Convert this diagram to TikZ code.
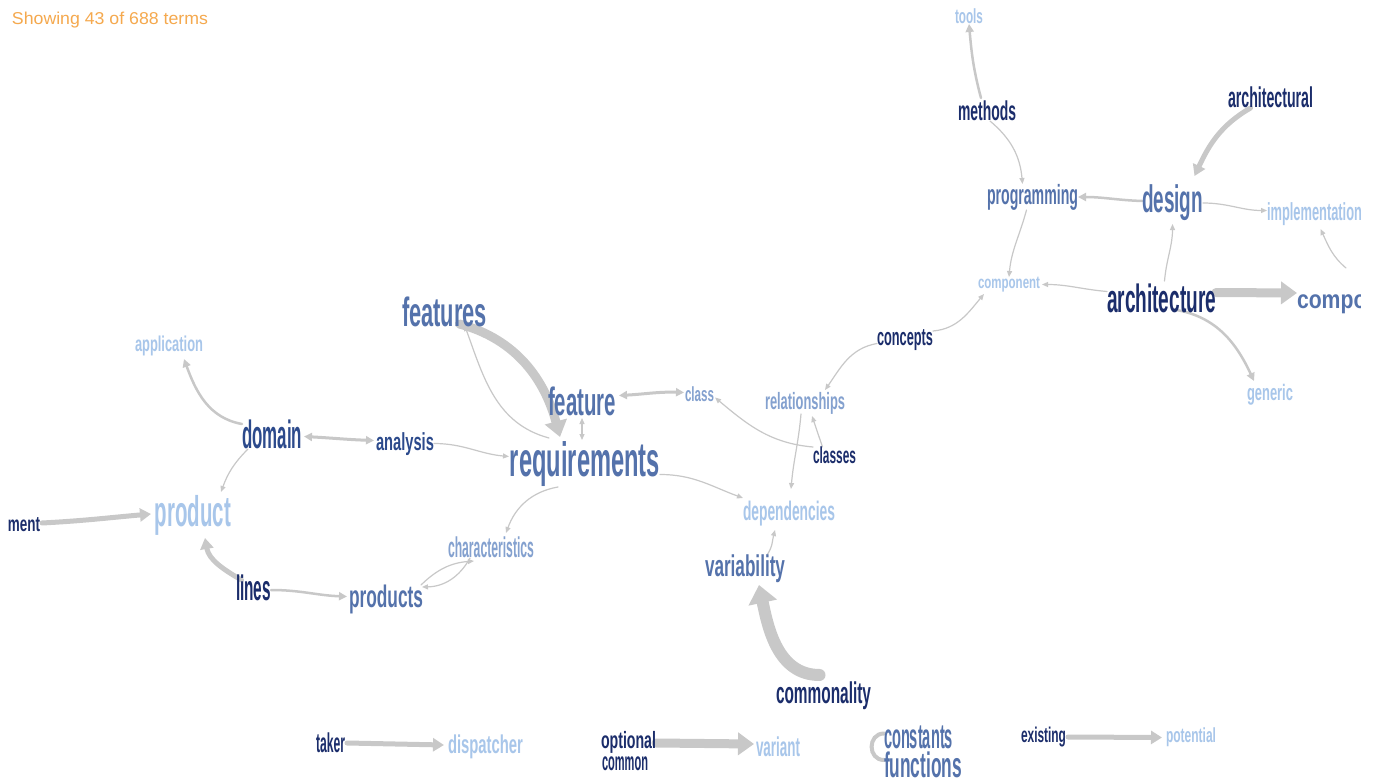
\documentclass[tikz,border=0pt]{standalone}
\usepackage{graphicx}
\usepackage{fontspec}
\setmainfont{Liberation Sans}
\usetikzlibrary{arrows.meta}
\pgfdeclarelayer{edges}
\pgfsetlayers{edges,main}
\definecolor{cdark}{HTML}{1B2D6B}
\definecolor{cdm}{HTML}{2C4A8C}
\definecolor{cmid}{HTML}{5472AB}
\definecolor{cml}{HTML}{84A1CF}
\definecolor{clight}{HTML}{A8C6EA}
\definecolor{cedge}{HTML}{C8C8C8}
\definecolor{corange}{HTML}{F5A94E}
\newcommand\fw[3]{\resizebox*{#1pt}{#2pt}{\bfseries #3}}
\tikzset{
  term/.style={inner sep=0pt, outer sep=0pt},
  ed/.style={draw=cedge, line cap=round},
  ea/.style={ed, line width=1.2pt, -{Triangle[length=6pt,width=5pt]}},
  eb/.style={ed, line width=2.5pt, -{Triangle[length=8pt,width=8pt]}},
  ec/.style={ed, line width=5pt, -{Triangle[length=11pt,width=13pt]}},
  edd/.style={ed, line width=9pt, -{Triangle[length=16pt,width=22pt]}},
  ee/.style={ed, line width=12pt, -{Triangle[length=18pt,width=28pt]}},
  eab/.style={ed, line width=1.2pt, {Triangle[length=6pt,width=5pt]}-{Triangle[length=6pt,width=5pt]}},
  ebb/.style={ed, line width=3pt, {Triangle[length=8pt,width=8pt]}-{Triangle[length=8pt,width=8pt]}},
}
\begin{document}
\begin{tikzpicture}[x=1pt,y=-1pt]
\useasboundingbox (0,0) rectangle (1376,778);
\begin{pgfonlayer}{edges}
\fill[white] (0,0) rectangle (1376,778);
\end{pgfonlayer}
\begin{scope}
\clip (8,0) rectangle (1360,778);
% header
\node[term,text=corange] (hdr) at (110,20) {\resizebox*{196pt}{16pt}{Showing 43 of 688 terms}};
% terms
\node[term,text=clight] (tools) at (969,16.5) {\fw{28}{15}{tools}};
\node[term,text=cdark] (methods) at (987,111) {\fw{58}{20}{methods}};
\node[term,text=cdark] (architectural) at (1270.5,97.5) {\fw{85}{21}{architectural}};
\node[term,text=cmid] (programming) at (1032.5,197) {\fw{91}{26}{programming}};
\node[term,text=cmid] (design) at (1172.5,203) {\fw{61}{36}{design}};
\node[term,text=clight] (implementation) at (1314.5,214.5) {\fw{95}{23}{implementation}};
\node[term,text=clight] (component) at (1009,284.5) {\fw{62}{15}{component}};
\node[term,text=cdark] (architecture) at (1161.5,298.5) {\fw{109}{29}{architecture}};
\node[term,text=cmid] (components) at (1360,303) {\fw{126}{22}{components}};
\node[term,text=clight] (generic) at (1270,394.5) {\fw{46}{21}{generic}};
\node[term,text=cdark] (concepts) at (905,340.5) {\fw{56}{21}{concepts}};
\node[term,text=cmid] (features) at (444.5,312) {\fw{85}{30}{features}};
\node[term,text=clight] (application) at (169,346) {\fw{68}{20}{application}};
\node[term,text=cdm] (domain) at (272,434.5) {\fw{60}{29}{domain}};
\node[term,text=cdm] (analysis) at (405,444.5) {\fw{58}{23}{analysis}};
\node[term,text=cmid] (feature) at (582,401.5) {\fw{68}{29}{feature}};
\node[term,text=cml] (class) at (699.5,394.5) {\fw{29}{15}{class}};
\node[term,text=cml] (relationships) at (805,403) {\fw{80}{22}{relationships}};
\node[term,text=cdark] (classes) at (834.5,455.5) {\fw{43}{17}{classes}};
\node[term,text=cmid] (requirements) at (585,464.5) {\fw{150}{45}{requirements}};
\node[term,text=clight] (dependencies) at (789,513.5) {\fw{92}{25}{dependencies}};
\node[term,text=cml] (characteristics) at (491,547.5) {\fw{86}{21}{characteristics}};
\node[term,text=clight] (product) at (193,515) {\fw{76}{40}{product}};
\node[term,text=cdark] (development) at (-1.5,526) {\fw{83}{20}{development}};
\node[term,text=cdark] (lines) at (253.5,588) {\fw{35}{26}{lines}};
\node[term,text=cmid] (products) at (386,599.5) {\fw{74}{29}{products}};
\node[term,text=cmid] (variability) at (745,569) {\fw{80}{28}{variability}};
\node[term,text=cdark] (commonality) at (823.5,696) {\fw{95}{28}{commonality}};
\node[term,text=cdark] (taker) at (330.5,743) {\fw{29}{20}{taker}};
\node[term,text=clight] (dispatcher) at (485.5,747) {\fw{75}{24}{dispatcher}};
\node[term,text=cdark] (optional) at (628.5,742) {\fw{55}{22}{optional}};
\node[term,text=cdark] (common) at (625,763.5) {\fw{46}{14}{common}};
\node[term,text=clight] (variant) at (778,747) {\fw{44}{20}{variant}};
\node[term,text=cmid] (constants) at (918.5,737.5) {\fw{69}{23}{constants}};
\node[term,text=cmid] (functions) at (923,765) {\fw{78}{26}{functions}};
\node[term,text=cdark] (existing) at (1043.5,737) {\fw{45}{20}{existing}};
\node[term,text=clight] (potential) at (1191,737.5) {\fw{50}{19}{potential}};
\end{scope}
% connectors
\begin{pgfonlayer}{edges}
\begin{scope}
\clip (8,0) rectangle (1360,778);
\draw[eb] ([xshift=-6pt,yshift=3pt]methods.north) to[out=105,in=-85] (tools.south);
\draw[ea] ([xshift=3pt]methods.south) to[out=-40,in=95] ([xshift=-10pt]programming.north);
\draw[ec] ([xshift=-20pt]architectural.south) to[out=-150,in=65] ([xshift=22pt,yshift=9pt]design.north);
\draw[eb] ([yshift=2pt]design.west) to[out=178,in=0] (programming.east);
\draw[ea] (design.east) to[out=0,in=180] ([yshift=4pt]implementation.west);
\draw[ea] ([xshift=-6pt]programming.south) to[out=-105,in=85] (component.north);
\draw[ea] ([xshift=3pt,yshift=3pt]architecture.north) to[out=85,in=-90] ([yshift=-3pt]design.south);
\draw[ea] ([xshift=-14pt,yshift=24pt]components.north) to[out=140,in=-65] ([xshift=6pt,yshift=-3pt]implementation.south);
\draw[ea] ([yshift=7pt]architecture.west) to[out=175,in=0] ([xshift=2pt]component.east);
\draw[edd] ([yshift=6pt]architecture.east) -- ([yshift=10pt]components.west);
\draw[eb] ([xshift=15pt,yshift=3pt]architecture.south) to[out=-10,in=115] ([xshift=-16pt,yshift=3pt]generic.north);
\draw[ea] ([yshift=-1pt]concepts.north east) to[out=5,in=-130] ([xshift=6pt,yshift=-2pt]component.south west);
\draw[ea] ([yshift=-3pt]concepts.west) to[out=190,in=55] ([xshift=20pt,yshift=2pt]relationships.north);
\draw[ea] ([xshift=-4pt]relationships.south) to[out=-95,in=85] ([xshift=2pt,yshift=12pt]dependencies.north);
\draw[ea] ([xshift=-12pt]classes.north) -- ([xshift=7pt,yshift=-2pt]relationships.south);
\draw[ea] (classes.north west) to[out=175,in=-40] ([xshift=1pt,yshift=-3pt]class.east);
\draw[ebb] ([xshift=3pt,yshift=6pt]feature.east) to[out=3,in=178] ([xshift=-1pt,yshift=2pt]class.west);
\draw[eab] ([yshift=-2pt]feature.south) -- ([xshift=-3pt,yshift=2pt]requirements.north);
\draw[ea] ([xshift=-36pt,yshift=4pt]requirements.north) to[out=165,in=-70] ([xshift=20pt,yshift=2pt]features.south);
\draw[edd] ([xshift=15pt,yshift=3pt]features.south) to[out=-15,in=105] ([xshift=-25pt,yshift=5pt]requirements.north);
\draw[ebb] ([xshift=2pt,yshift=-2pt]domain.east) to[out=-3,in=178] ([xshift=-2pt,yshift=4pt]analysis.west);
\draw[ea] ([yshift=1pt]analysis.east) to[out=0,in=175] ([xshift=-1pt,yshift=8pt]requirements.west);
\draw[eb] ([yshift=-4pt]domain.north west) to[out=170,in=-70] ([xshift=15pt,yshift=-3pt]application.south);
\draw[ea] ([xshift=6pt]domain.south west) to[out=-135,in=70] ([xshift=28pt,yshift=3pt]product.north);
\draw[ec] ([xshift=2pt,yshift=3pt]development.east) to[out=3,in=185] ([xshift=-4pt,yshift=1pt]product.west);
\draw[ec] ([xshift=-12pt,yshift=-5pt]lines.north) to[out=150,in=-80] ([xshift=12pt,yshift=-3pt]product.south);
\draw[eb] ([yshift=-2pt]lines.east) to[out=0,in=178] ([xshift=-2pt,yshift=3pt]products.west);
\draw[ea] ([xshift=-27pt]requirements.south) to[out=190,in=70] ([xshift=15pt,yshift=4pt]characteristics.north);
\draw[ea] ([xshift=22pt]characteristics.south west) to[bend left=30] ([xshift=-1pt,yshift=-2pt]products.north east);
\draw[ea] ([xshift=-2pt]products.north east) to[bend left=20] ([xshift=26pt,yshift=-3pt]characteristics.south west);
\draw[ea] ([yshift=-10pt]requirements.east) to[out=0,in=160] ([yshift=3pt]dependencies.north west);
\draw[ea] ([xshift=22pt]variability.north) to[out=55,in=-105] ([xshift=-14pt,yshift=-4pt]dependencies.south);
\draw[ee] ([xshift=-4pt,yshift=7pt]commonality.north) to[out=180,in=-78] ([xshift=14pt,yshift=-2pt]variability.south);
\draw[ec] ([xshift=2pt]taker.east) -- ([xshift=-4pt,yshift=2pt]dispatcher.west);
\draw[edd] ([yshift=-1pt]optional.east) -- ([xshift=-2pt,yshift=3pt]variant.west);
\draw[ed,line width=4pt] ([yshift=4pt]constants.west) to[out=180,in=180,looseness=1.6] ([yshift=5pt]functions.west);
\draw[ec] ([xshift=2pt]existing.east) -- ([xshift=-4pt]potential.west);
\end{scope}
\end{pgfonlayer}
\end{tikzpicture}
\end{document}
